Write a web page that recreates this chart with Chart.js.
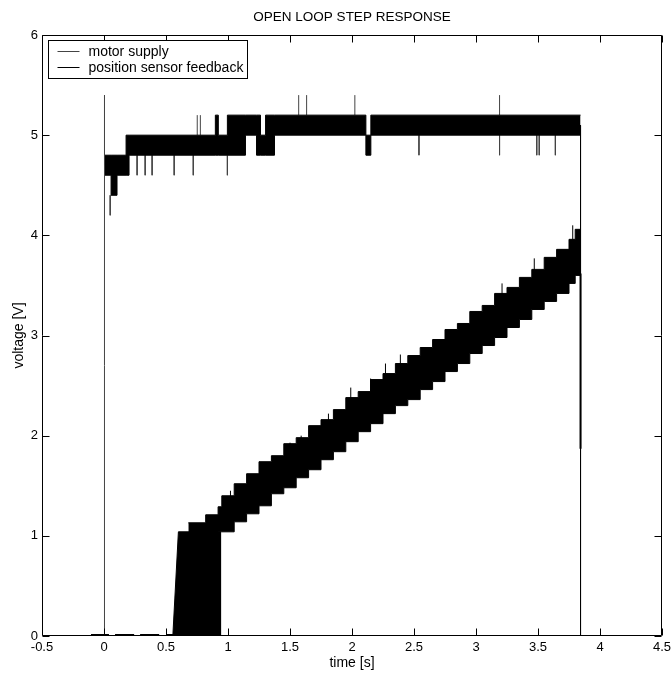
<!DOCTYPE html>
<html>
<head>
<meta charset="utf-8">
<script src="https://cdn.jsdelivr.net/npm/chart.js@4"></script>
<style>
  body { margin: 0; background: #fff; }
  canvas { display: block; }
</style>
</head>
<body>
<canvas id="chart" width="671" height="673"></canvas>
<script>
const xTicks = [-0.5, 0, 0.5, 1, 1.5, 2, 2.5, 3, 3.5, 4, 4.5];
const yTicks = [0, 1, 2, 3, 4, 5, 6];

// motor supply: switch-on and switch-off edges
const motorOnX = [-0.1, 0, 0, 0.008];
const motorOnY = [0, 0, 5.4, 4.7];
const motorOffX = [3.843, 3.843];
const motorOffY = [5.1, 0];

// motor supply: band the noisy reading fills (value holds until the next x)
const motorBandX    = [0.008, 0.057, 0.105, 0.178, 0.202, 0.898, 0.922, 0.995, 1.141, 1.23, 1.262, 1.303, 1.375, 2.112, 2.152, 3.843];
const motorBandLow  = [4.6,   4.4,   4.6,   4.6,   4.8,   4.8,   4.8,   4.8,   5.0,   4.8,  4.8,   4.8,   5.0,   4.8,   5.0,   5.0];
const motorBandHigh = [4.8,   4.8,   4.8,   5.0,   5.0,   5.2,   5.0,   5.2,   5.2,   5.2,  5.0,   5.2,   5.2,   5.0,   5.2,   5.2];

// motor supply: single-sample spikes out of the band
const motorSpikeX    = [0.05, 0.267, 0.332, 0.388, 0.566, 0.72, 0.752, 0.777, 0.995, 1.57, 1.634, 2.023, 2.54, 3.19, 3.19, 3.49, 3.51, 3.64];
const motorSpikeFrom = [4.4,  4.8,   4.8,   4.8,   4.8,   4.8,  5.0,   5.0,   4.8,   5.2,  5.2,   5.2,   5.0,  5.2,  5.0,  5.0,  5.0,  5.0];
const motorSpikeTo   = [4.2,  4.6,   4.6,   4.6,   4.6,   4.6,  5.2,   5.2,   4.6,   5.4,  5.4,   5.4,   4.8,  5.4,  4.8,  4.8,  4.8,  4.8];

// position sensor feedback: flat stretches at 0 before the shaft moves
const fbZeroStart = [-0.105, 0.089, 0.291, 0.5];
const fbZeroEnd   = [0.04,   0.243, 0.445, 0.565];

// feedback: sensor flickering between 0 and ~1 V at start-up
const fbBlockX = [0.555, 0.6,  0.94, 0.94];
const fbBlockY = [0,     1.04, 1.04, 0];

// feedback: ramp band (upper / lower edge)
const fbRampX    = [0.68, 0.82, 0.92, 0.95, 1.05, 1.15, 1.25, 1.35, 1.45, 1.55, 1.65, 1.75, 1.85, 1.95, 2.05, 2.15, 2.25, 2.35, 2.45, 2.55, 2.65, 2.75, 2.85, 2.95, 3.05, 3.15, 3.25, 3.35, 3.45, 3.55, 3.65, 3.75, 3.80, 3.843];
const fbRampHigh = [1.13, 1.21, 1.29, 1.40, 1.52, 1.62, 1.74, 1.80, 1.92, 1.98, 2.10, 2.16, 2.26, 2.38, 2.44, 2.56, 2.62, 2.72, 2.80, 2.88, 2.96, 3.06, 3.12, 3.24, 3.30, 3.42, 3.48, 3.58, 3.66, 3.78, 3.86, 3.96, 4.06, 4.06];
const fbRampLow  = [1.0,  1.0,  1.04, 1.04, 1.14, 1.22, 1.30, 1.42, 1.48, 1.58, 1.66, 1.76, 1.84, 1.94, 2.04, 2.12, 2.22, 2.30, 2.36, 2.46, 2.54, 2.64, 2.72, 2.82, 2.90, 2.98, 3.08, 3.16, 3.26, 3.34, 3.42, 3.52, 3.60, 3.60];

// feedback: single samples poking out of the ramp band
const fbSpikeX    = [1.02, 1.50, 1.59, 1.68, 1.81, 1.87, 1.99, 2.10, 2.15, 2.27, 2.39, 2.62, 2.93, 3.21, 3.47, 3.58, 3.62, 3.78];
const fbSpikeFrom = [1.30, 1.80, 1.90, 1.96, 2.10, 2.10, 2.30, 2.30, 2.40, 2.50, 2.60, 2.80, 3.05, 3.30, 3.55, 3.55, 3.60, 3.80];
const fbSpikeTo   = [1.45, 1.93, 2.00, 2.09, 2.22, 1.98, 2.48, 2.12, 2.57, 2.72, 2.81, 2.60, 2.90, 3.52, 3.77, 3.40, 3.45, 4.10];

// feedback: drop when the supply is cut
const fbEndX = [3.843, 3.843];
const fbEndY = [3.62, 1.87];

const pts = (xs, ys) => xs.map((x, i) => ({ x, y: ys[i] }));
const segs = (xs, from, to) => xs.flatMap((x, i) => [{ x, y: from[i] }, { x, y: to[i] }, { x, y: null }]);
const flat = (starts, ends, level) => starts.flatMap((s, i) => [{ x: s, y: level }, { x: ends[i], y: level }, { x: ends[i], y: null }]);

const FAMILY = 'Liberation Sans, Arial, sans-serif';
const tickFont = { family: FAMILY, size: 13 };
const labelFont = { family: FAMILY, size: 14 };
const MOTOR = '#444';
const FB = '#000';

const line = (label, data, color, extra) => Object.assign({
  label, data, borderColor: color, backgroundColor: color, borderWidth: 1,
  pointRadius: 0, fill: false, tension: 0, spanGaps: false
}, extra || {});

// 'before' keeps each value flat until the next sample
const band = { stepped: 'before', fill: '+1', backgroundColor: '#000' };

const datasets = [
  line('motor supply', pts(motorOnX, motorOnY), MOTOR),
  line('motor band high', pts(motorBandX, motorBandHigh), '#000', band),
  line('motor band low', pts(motorBandX, motorBandLow), '#000', { stepped: 'before' }),
  line('motor spikes', segs(motorSpikeX, motorSpikeFrom, motorSpikeTo), MOTOR),
  line('motor off', pts(motorOffX, motorOffY), '#000'),
  line('position sensor feedback', flat(fbZeroStart, fbZeroEnd, 0.01), FB, { borderWidth: 2 }),
  line('feedback block', pts(fbBlockX, fbBlockY), FB, { fill: 'origin', backgroundColor: '#000' }),
  line('feedback ramp high', pts(fbRampX, fbRampHigh), FB, band),
  line('feedback ramp low', pts(fbRampX, fbRampLow), FB, { stepped: 'before' }),
  line('feedback spikes', segs(fbSpikeX, fbSpikeFrom, fbSpikeTo), FB),
  line('feedback end', pts(fbEndX, fbEndY), FB, { borderWidth: 2 })
];

// box round the axes with inward ticks on all four sides
const frame = {
  id: 'frame',
  afterDatasetsDraw(chart) {
    const { ctx, chartArea: a, scales: { x, y } } = chart;
    const L = Math.round(a.left) + 0.5, R = Math.round(a.right) - 0.5;
    const T = Math.round(a.top) + 0.5, B = Math.round(a.bottom) - 0.5;
    const len = 7;
    ctx.save();
    ctx.strokeStyle = '#000';
    ctx.lineWidth = 1;
    ctx.beginPath();
    ctx.rect(L, T, R - L, B - T);
    xTicks.forEach(v => {
      const px = Math.round(x.getPixelForValue(v)) + 0.5;
      ctx.moveTo(px, B); ctx.lineTo(px, B - len);
      ctx.moveTo(px, T); ctx.lineTo(px, T + len);
    });
    yTicks.forEach(v => {
      const py = Math.round(y.getPixelForValue(v)) + 0.5;
      ctx.moveTo(L, py); ctx.lineTo(L + len, py);
      ctx.moveTo(R, py); ctx.lineTo(R - len, py);
    });
    ctx.stroke();
    ctx.restore();
  }
};

// legend box in the upper left corner of the axes
const legendBox = {
  id: 'legendBox',
  afterDraw(chart) {
    const { ctx, chartArea: a } = chart;
    const entries = [datasets[0], datasets[5]];
    const bx = Math.round(a.left) + 6.5, by = Math.round(a.top) + 5.5, bw = 199, bh = 38;
    ctx.save();
    ctx.fillStyle = '#fff';
    ctx.fillRect(bx, by, bw, bh);
    ctx.strokeStyle = '#000';
    ctx.lineWidth = 1;
    ctx.strokeRect(bx, by, bw, bh);
    ctx.font = `${labelFont.size}px ${FAMILY}`;
    ctx.textBaseline = 'middle';
    entries.forEach((d, i) => {
      const ly = Math.round(by + 10 + i * 16) + 0.5;
      ctx.strokeStyle = d.borderColor;
      ctx.beginPath();
      ctx.moveTo(bx + 9, ly);
      ctx.lineTo(bx + 31, ly);
      ctx.stroke();
      ctx.fillStyle = '#000';
      ctx.fillText(d.label, bx + 40, ly + 1);
    });
    ctx.restore();
  }
};

new Chart(document.getElementById('chart'), {
  type: 'line',
  data: { datasets },
  options: {
    responsive: false,
    animation: false,
    devicePixelRatio: 1,
    layout: { padding: { left: 0, right: 9, top: 0, bottom: 0 } },
    plugins: {
      legend: { display: false },
      tooltip: { enabled: false },
      title: {
        display: true, fullSize: false, text: 'OPEN LOOP STEP RESPONSE', color: '#000',
        font: { family: FAMILY, size: 13.5, weight: 'normal', lineHeight: 1.2 },
        padding: { top: 9, bottom: 9.8 }
      }
    },
    scales: {
      x: {
        type: 'linear', min: -0.5, max: 4.5,
        afterBuildTicks: s => { s.ticks = xTicks.map(v => ({ value: v })); },
        afterFit: s => { s.height = 37; s.paddingLeft = 0; s.paddingRight = 0; },
        ticks: { font: tickFont, color: '#000', padding: 4, maxRotation: 0, autoSkip: false, callback: v => String(v) },
        grid: { display: false, drawTicks: false },
        border: { display: false },
        title: { display: true, text: 'time [s]', font: labelFont, color: '#000', padding: { top: 0, bottom: 1 } }
      },
      y: {
        type: 'linear', min: 0, max: 6,
        afterBuildTicks: s => { s.ticks = yTicks.map(v => ({ value: v })); },
        afterFit: s => { s.width = 42; s.paddingTop = 0; s.paddingBottom = 0; },
        ticks: { font: tickFont, color: '#000', padding: 4, callback: v => String(v) },
        grid: { display: false, drawTicks: false },
        border: { display: false },
        title: { display: true, text: 'voltage [V]', font: labelFont, color: '#000', padding: { top: 11, bottom: 0 } }
      }
    }
  },
  plugins: [frame, legendBox]
});
</script>
</body>
</html>
